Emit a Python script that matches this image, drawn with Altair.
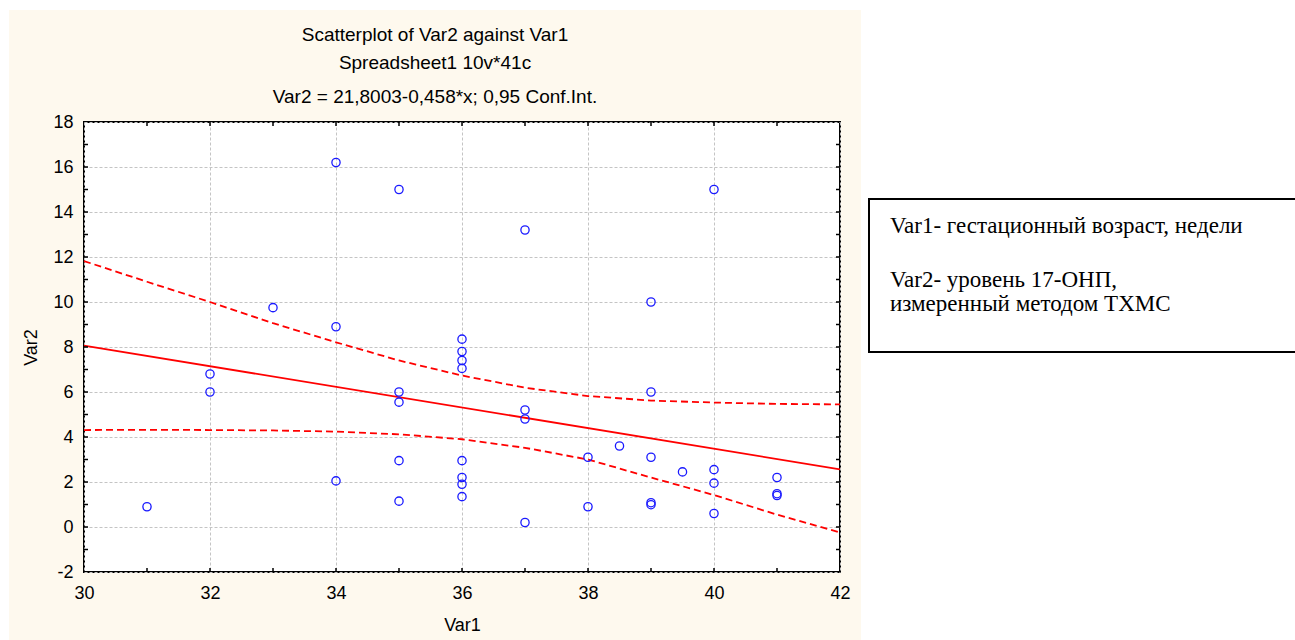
import altair as alt
import pandas as pd

# Observations
var1 = [31, 32, 32, 33, 34, 34, 34, 35, 35, 35, 35, 35,
        36, 36, 36, 36, 36, 36, 36, 36, 37, 37, 37, 37,
        38, 38, 38.5, 39, 39, 39, 39, 39, 39.5, 40, 40, 40, 40,
        41, 41, 41]
var2 = [0.9, 6.8, 6.0, 9.75, 16.2, 8.9, 2.05, 15.0, 6.0, 5.55, 2.95, 1.15,
        8.35, 7.8, 7.4, 7.05, 2.95, 2.2, 1.9, 1.35, 13.2, 5.2, 4.8, 0.2,
        3.1, 0.9, 3.6, 10.0, 6.0, 3.1, 1.08, 0.99, 2.45, 15.0, 2.55, 1.95, 0.6,
        2.2, 1.48, 1.4]

# Fitted line Var2 = 21.8003 - 0.458*x and its 0.95 confidence limits
intercept = 21.8003
slope = -0.458
band_x = [30, 31, 32, 33, 34, 35, 36, 37, 38, 39, 40, 41, 42]
band_upper = [11.82, 10.9, 10.0, 9.06, 8.21, 7.4, 6.73, 6.19, 5.82, 5.62, 5.53, 5.47, 5.45]
band_lower = [4.31, 4.32, 4.31, 4.29, 4.24, 4.12, 3.9, 3.52, 3.0, 2.2, 1.42, 0.55, -0.24]

x_labels = [30, 32, 34, 36, 38, 40, 42]
y_labels = [-2, 0, 2, 4, 6, 8, 10, 12, 14, 16, 18]
x_minor = list(range(31, 42))
y_minor = list(range(-1, 18))

title_lines = ["Scatterplot of Var2 against Var1",
               "Spreadsheet1 10v*41c",
               "Var2 = 21,8003-0,458*x; 0,95 Conf.Int."]
note_first = "Var1- гестационный возраст, недели"
note_second = ["Var2- уровень 17-ОНП,", "измеренный методом ТХМС"]

W, H = 756, 450
SANS = "Liberation Sans"
SERIF = "Liberation Serif"
RED = "#ff0000"

# plain hyphen for negative numbers
LABEL_EXPR = "datum.value < 0 ? '-' + abs(datum.value) : '' + datum.value"

xs = alt.Scale(domain=[30, 42], nice=False, zero=False)
ys = alt.Scale(domain=[-2, 18], nice=False, zero=False)

pts = pd.DataFrame({"Var1": var1, "Var2": var2})
fit = pd.DataFrame({"Var1": [band_x[0], band_x[-1]],
                    "Var2": [intercept + slope * band_x[0], intercept + slope * band_x[-1]]})
band = pd.DataFrame({"Var1": band_x * 2,
                     "Var2": band_upper + band_lower,
                     "side": ["upper"] * len(band_x) + ["lower"] * len(band_x)})
one = pd.DataFrame({"k": [0]})

axis_common = dict(grid=True, gridColor="#c4c4c4", gridDash=[3, 2], gridWidth=1,
                   ticks=False, tickSize=0, domain=False, labelExpr=LABEL_EXPR,
                   labelFont=SANS, labelFontSize=18, labelColor="#000000",
                   titleFont=SANS, titleFontSize=18, titleFontWeight="normal",
                   titleColor="#000000", labelFlush=False)
x_axis = alt.Axis(values=x_labels, labelPadding=12, title="Var1", titlePadding=14,
                  **axis_common)
y_axis = alt.Axis(values=y_labels, labelPadding=11, title="Var2", titlePadding=12,
                  **axis_common)

# White margins around the beige panel (the chart background is beige)
right_white = alt.Chart(one).mark_rect(color="white").encode(
    x=alt.value(777), x2=alt.value(1215), y=alt.value(-122), y2=alt.value(520))
left_white = alt.Chart(one).mark_rect(color="white").encode(
    x=alt.value(-84), x2=alt.value(-75), y=alt.value(-122), y2=alt.value(520))
top_white = alt.Chart(one).mark_rect(color="white").encode(
    x=alt.value(-84), x2=alt.value(1215), y=alt.value(-122), y2=alt.value(-112))

# Scatter points
scatter = alt.Chart(pts).mark_point(shape="circle", filled=False, color="#1a1aff",
                                    size=68, strokeWidth=1.3, opacity=1).encode(
    x=alt.X("Var1:Q", scale=xs, axis=x_axis),
    y=alt.Y("Var2:Q", scale=ys, axis=y_axis))

fit_line = alt.Chart(fit).mark_line(color=RED, strokeWidth=1.8).encode(
    x=alt.X("Var1:Q", scale=xs), y=alt.Y("Var2:Q", scale=ys))

band_lines = alt.Chart(band).mark_line(color=RED, strokeWidth=1.8, strokeDash=[7, 4]).encode(
    x=alt.X("Var1:Q", scale=xs), y=alt.Y("Var2:Q", scale=ys), detail="side:N")

# Inward minor ticks on all four sides
tx = pd.DataFrame({"v": x_minor})
ty = pd.DataFrame({"v": y_minor})
tick_kw = dict(color="#000000", strokeWidth=1.5)
ticks_bottom = alt.Chart(tx).mark_rule(**tick_kw).encode(
    x=alt.X("v:Q", scale=xs), y=alt.value(H), y2=alt.value(H - 4))
ticks_top = alt.Chart(tx).mark_rule(**tick_kw).encode(
    x=alt.X("v:Q", scale=xs), y=alt.value(0), y2=alt.value(4))
ticks_left = alt.Chart(ty).mark_rule(**tick_kw).encode(
    y=alt.Y("v:Q", scale=ys), x=alt.value(0), x2=alt.value(4))
ticks_right = alt.Chart(ty).mark_rule(**tick_kw).encode(
    y=alt.Y("v:Q", scale=ys), x=alt.value(W), x2=alt.value(W - 4))

# Three-line heading
heading = pd.DataFrame({"t": title_lines, "yy": [-87, -59, -25]})
head_text = alt.Chart(heading).mark_text(font=SANS, fontSize=19, color="#000000",
                                         align="center", baseline="middle").encode(
    text="t:N", x=alt.value(351), y=alt.Y("yy:Q", scale=None))

# Variable description box
note_box = alt.Chart(one).mark_rect(fill="white", stroke="#000000", strokeWidth=2).encode(
    x=alt.value(785), x2=alt.value(1225), y=alt.value(77), y2=alt.value(230))
note1 = alt.Chart(one).mark_text(font=SERIF, fontSize=23, color="#000000", align="left",
                                 baseline="middle", text=note_first).encode(
    x=alt.value(806), y=alt.value(104))
note2 = alt.Chart(one).mark_text(font=SERIF, fontSize=23, color="#000000", align="left",
                                 baseline="middle", text=note_second, lineHeight=24).encode(
    x=alt.value(806), y=alt.value(158))

chart = alt.layer(
    right_white, left_white, top_white,
    band_lines, fit_line, scatter,
    ticks_bottom, ticks_top, ticks_left, ticks_right,
    head_text, note_box, note1, note2,
).properties(
    width=W, height=H,
    autosize=alt.AutoSizeParams(type="none"),
    padding={"left": 84, "top": 122, "right": 1295 - 84 - W, "bottom": 640 - 122 - H},
    background="#fef9ee",
).configure_view(
    fill="white", stroke="#000000", strokeWidth=2,
)

chart.save("out.html", embed_options={"renderer": "svg", "actions": False})
